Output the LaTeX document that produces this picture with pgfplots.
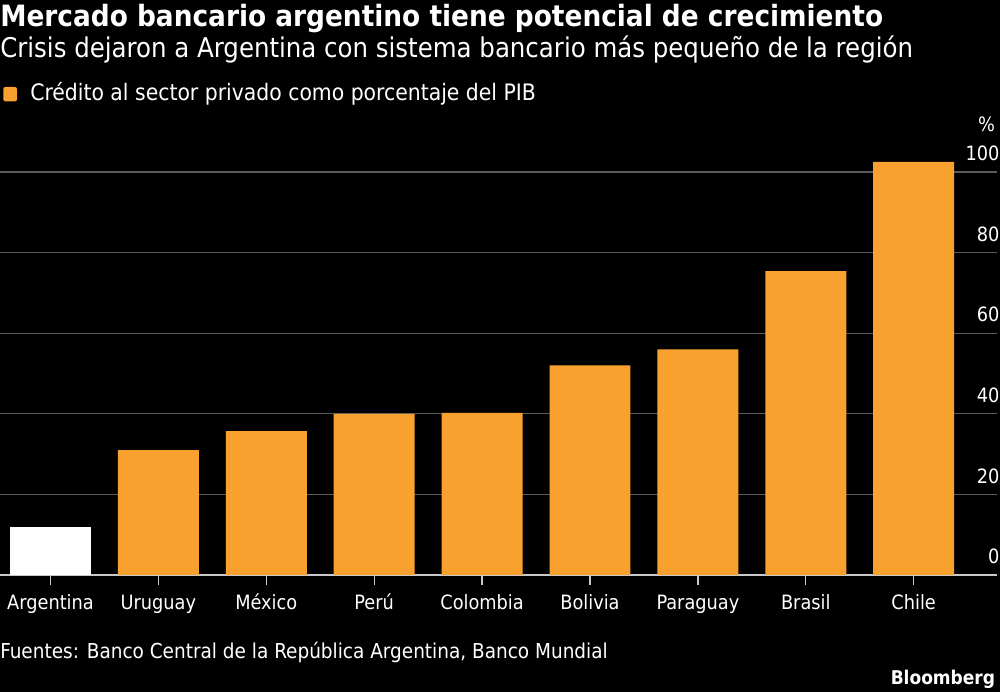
\documentclass[border=0pt]{standalone}
\usepackage{fontspec}
\setmainfont{DejaVu Sans Condensed}
\usepackage{pgfplots}
\pgfplotsset{compat=1.18}
\definecolor{bbgorange}{HTML}{F9A12E}
\definecolor{gridc}{HTML}{5A5A5A}
\definecolor{basec}{HTML}{C8C8C8}
\begin{document}
\begin{tikzpicture}
\useasboundingbox (0pt,0pt) rectangle (750pt,519pt);
\fill[black] (0pt,0pt) rectangle (750pt,519pt);
\begin{axis}[at={(0pt,87.75pt)}, anchor=south west, scale only axis,
  width=747.75pt, height=332.475pt,
  xmin=-0.468, xmax=8.772, ymin=0, ymax=110,
  axis x line*=bottom, axis y line*=right,
  x axis line style={basec, line width=1pt},
  y axis line style={draw=none},
  xtick={0,...,8},
  xticklabels={Argentina,Uruguay,México,Perú,Colombia,Bolivia,Paraguay,Brasil,Chile},
  ytick={0,20,...,100},
  ymajorgrids, grid style={gridc, line width=0.8pt},
  tick align=outside, major tick length=7.5pt,
  xtick style={basec, line width=1pt}, ytick style={draw=none},
  tick label style={font=\fontsize{14.8}{18}\selectfont, white},
  yticklabel style={anchor=south east, inner sep=0pt, xshift=-5.5pt, yshift=8pt},
  xticklabel style={text height=11pt, text depth=3pt, yshift=-4pt},
  /pgf/number format/assume math mode=true,
  ybar, bar width=0.75,
]
\addplot[fill=white, draw=none, bar shift=0pt] coordinates {(0,12)};
\addplot[fill=bbgorange, draw=none, bar shift=0pt] coordinates {(1,31)(2,35.7)(3,40)(4,40.2)(5,52)(6,56)(7,75.4)(8,102.5)};
\end{axis}
\node[anchor=base east, inner sep=0pt, white, font=\fontsize{14.8}{18}\selectfont] at (746.5pt,420pt) {\%};
\node[anchor=base west, inner sep=0pt, white, font=\bfseries\fontsize{22}{26}\selectfont] at (0pt,498.75pt) {Mercado bancario argentino tiene potencial de crecimiento};
\node[anchor=base west, inner sep=0pt, white, font=\fontsize{20.4}{24}\selectfont] at (0pt,475.5pt) {Crisis dejaron a Argentina con sistema bancario más pequeño de la región};
\fill[bbgorange, rounded corners=1.5pt] (2.5pt,443pt) rectangle (12.75pt,453.75pt);
\node[anchor=base west, inner sep=0pt, white, font=\fontsize{17}{20}\selectfont] at (22.5pt,443.25pt) {Crédito al sector privado como porcentaje del PIB};
\node[anchor=base west, inner sep=0pt, white, font=\fontsize{15.4}{19}\selectfont] at (0pt,24.75pt) {Fuentes: Banco Central de la República Argentina, Banco Mundial};
\node[anchor=base east, inner sep=0pt, white, font=\bfseries\fontsize{14.2}{17}\selectfont] at (746.5pt,5.25pt) {Bloomberg};
\end{tikzpicture}
\end{document}
